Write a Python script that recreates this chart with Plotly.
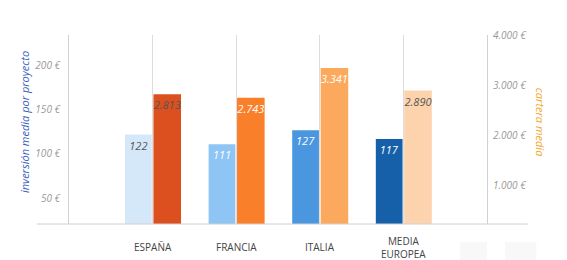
import plotly.graph_objects as go

categories = ["ESPAÑA", "FRANCIA", "ITALIA", "MEDIA<br>EUROPEA"]
inversion = [122, 111, 127, 117]
cartera = [2813, 2743, 3341, 2890]
inversion_labels = ["122", "111", "127", "117"]
cartera_labels = ["2.813", "2.743", "3.341", "2.890"]
left_tickvals = [50, 100, 150, 200]
left_ticktext = ["50 €", "100 €", "150 €", "200 €"]
right_tickvals = [1000, 2000, 3000, 4000]
right_ticktext = ["1.000 €", "2.000 €", "3.000 €", "4.000 €"]

blue_colors = ["#d5e8fa", "#8ec5f4", "#4a97df", "#1560a9"]
orange_colors = ["#dc4f1f", "#fa7f2b", "#fba95d", "#fdd3ae"]
blue_text = ["#555555", "white", "white", "white"]
orange_text = ["#555555", "white", "white", "#555555"]

xpos = [1, 2, 3, 4]
font = "Open Sans"

fig = go.Figure()
fig.add_trace(go.Bar(
    x=xpos, y=inversion, yaxis="y", marker=dict(color=blue_colors, line=dict(width=0)),
    offset=-0.33, width=0.32, text=inversion_labels, textposition="inside",
    insidetextanchor="end", constraintext="none", textangle=0,
    textfont=dict(family=font, size=11, color=blue_text, style="italic"),
    cliponaxis=False, showlegend=False, hoverinfo="skip"))
fig.add_trace(go.Bar(
    x=xpos, y=cartera, yaxis="y2", marker=dict(color=orange_colors, line=dict(width=0)),
    offset=0.01, width=0.33, text=cartera_labels, textposition="inside",
    insidetextanchor="end", constraintext="none", textangle=0,
    textfont=dict(family=font, size=11, color=orange_text, style="italic"),
    cliponaxis=False, showlegend=False, hoverinfo="skip"))

for x, c in zip(xpos, categories):
    fig.add_annotation(x=x, y=-0.122, xref="x", yref="paper", text=c, showarrow=False,
                       yanchor="middle", font=dict(family=font, size=10, color="#444444"))

fig.add_annotation(x=-0.105, y=0.54, xref="paper", yref="paper", xanchor="center",
                   yanchor="middle",
                   text="inversión media por proyecto", textangle=-90, showarrow=False,
                   font=dict(family=font, size=11, color="#3d5fbf", style="italic"))
fig.add_annotation(x=1.127, y=0.54, xref="paper", yref="paper", xanchor="center",
                   yanchor="middle",
                   text="cartera media", textangle=90, showarrow=False,
                   font=dict(family=font, size=11, color="#f4a62a", style="italic"))

fig.add_shape(type="line", xref="paper", yref="paper", x0=-0.077, x1=1.098, y0=0, y1=0,
              line=dict(color="#d0d0d0", width=1))
fig.add_shape(type="rect", xref="paper", yref="paper", x0=0.935, x1=1.0, y0=-0.095, y1=-0.2,
              line=dict(width=0), fillcolor="#f8f8f8", layer="below")
fig.add_shape(type="rect", xref="paper", yref="paper", x0=1.043, x1=1.118, y0=-0.095, y1=-0.2,
              line=dict(width=0), fillcolor="#f8f8f8", layer="below")

fig.update_layout(
    width=567, height=260, margin=dict(l=69, r=80, t=35, b=36),
    paper_bgcolor="white", plot_bgcolor="white",
    font=dict(family=font),
    xaxis=dict(range=[0, 5], tickvals=xpos, showticklabels=False, showgrid=True,
               gridcolor="#dcdcdc", gridwidth=1, zeroline=False, showline=False, fixedrange=True),
    yaxis=dict(range=[20.5, 235], tickvals=left_tickvals, ticktext=left_ticktext,
               showgrid=False, zeroline=False, showline=True, linecolor="#d0d0d0", linewidth=1,
               ticks="", ticklabelstandoff=6,
               tickfont=dict(family=font, size=10, color="#999999", style="italic")),
    yaxis2=dict(range=[220, 4000], tickvals=right_tickvals, ticktext=right_ticktext,
                overlaying="y", side="right", showgrid=False, zeroline=False, showline=True,
                linecolor="#d0d0d0", linewidth=1, ticks="", ticklabelstandoff=3,
                tickfont=dict(family=font, size=10, color="#999999", style="italic")),
)

fig.write_html("out.html")
